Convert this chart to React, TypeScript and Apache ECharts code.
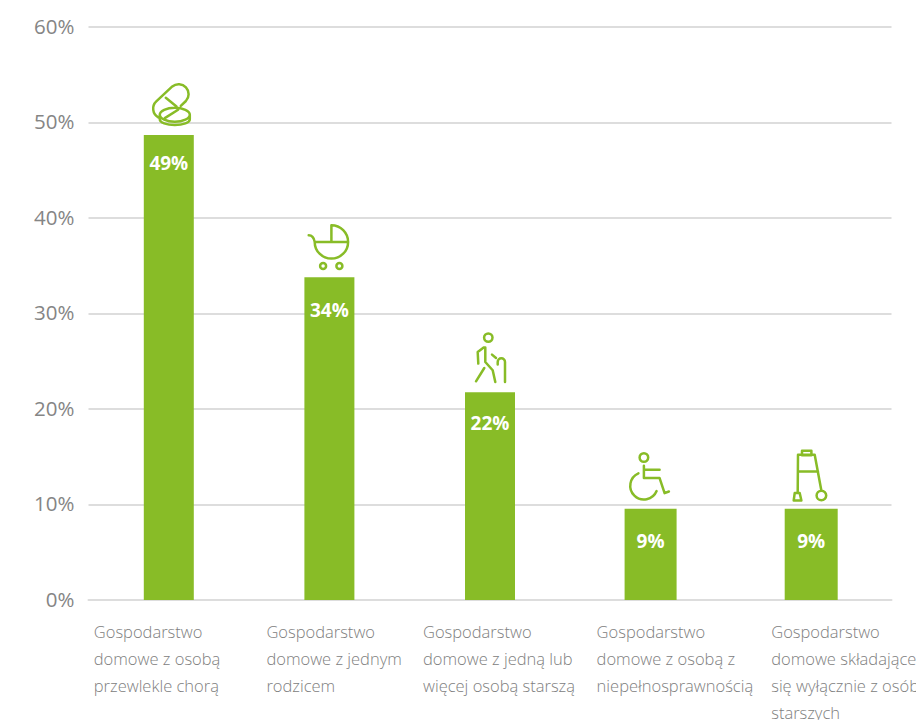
import React, { useEffect, useRef } from "react";
import * as echarts from "echarts";

const categories = [
  "Gospodarstwo\ndomowe z osobą\nprzewlekle chorą",
  "Gospodarstwo\ndomowe z jednym\nrodzicem",
  "Gospodarstwo\ndomowe z jedną lub\nwięcej osobą starszą",
  "Gospodarstwo\ndomowe z osobą z\nniepełnosprawnością",
  "Gospodarstwo\ndomowe składające\nsię wyłącznie z osób\nstarszych",
];
const barValues = [48.7, 33.8, 21.75, 9.55, 9.55];
const valueLabels = ["49%", "34%", "22%", "9%", "9%"];
const labelDistances = [19, 23.5, 21, 23, 23];
const barWidths = [50, 50, 50, 52, 53];
const labelBlockWidths = [150, 126, 134, 108, 80];
const iconNames = ["icoPill", "icoPram", "icoWalk", "icoChair", "icoFrame"];

const GREEN = "#88bc27";
const circle = (x: number, y: number, r: number) =>
  `M${x - r} ${y}A${r} ${r} 0 1 1 ${x + r} ${y}A${r} ${r} 0 1 1 ${x - r} ${y}`;

const iconPaths: Record<string, string> = {
  icoPill:
    "M12 -29L17.1 -33.9A10 10 0 0 0 3.5 -48.5L-12.5 -33.5A10 10 0 0 0 -10.5 -17.5" +
    "M-3 -37.2L7.7 -28.5" +
    "M-9 -20.2A15 7 0 1 1 21 -20.2A15 7 0 1 1 -9 -20.2" +
    "M-9 -20.2L-9 -15.5A15 5.5 0 0 0 21 -15.5L21 -20.2" +
    "M-4 -16.8L9.3 -25.2",
  icoPram:
    "M2 -52A16.7 16.7 0 0 1 18.7 -35.3A16.7 16.7 0 0 1 -14.7 -35.3L18.7 -35.3" +
    "M2 -52L2 -35.3M-14.7 -35.3C-15.5 -40 -17 -42 -20.7 -42" +
    circle(-6.3, -11.3, 3) +
    circle(10, -11.3, 3),
  icoWalk:
    circle(-1.7, -54.7, 4.2) +
    "M-6.3 -44.7L-12.3 -40.3L-11.7 -28.7" +
    "M-6.3 -44.7L-4.7 -44.7L-4.7 -30.3L2.7 -22L5.3 -10.3" +
    "M-5.7 -24.3L-14 -11" +
    "M2 -37.7L6 -34.3" +
    "M15 -10.3L15 -30.3A3.65 3.65 0 0 0 7.7 -30.3L7.7 -27.7",
  icoChair:
    circle(-6.7, -51.3, 4.3) +
    "M-6.7 -43L-6.7 -30.7L9 -30.7L14 -15.7L18.3 -17.3" +
    "M-6.7 -39L9 -39" +
    "M-12.2 -35.5A13.7 13.7 0 1 0 6 -17.7",
  icoFrame:
    "M-13.5 -15.7L-13.2 -54L3.5 -54L10.2 -18" +
    "M-13.2 -37.3L6.8 -37.3" +
    "M-9.2 -53.5L-9.2 -58L0.2 -58L0.2 -53.5Z" +
    "M-16.5 -15.7L-11.5 -15.7L-9.8 -8.3L-17.5 -8.3Z" +
    circle(10.2, -13.3, 4.8),
};
Object.keys(iconPaths).forEach((name) => {
  echarts.graphic.registerShape(name, echarts.graphic.extendPath(iconPaths[name], {}) as any);
});

const rich: Record<string, any> = {};
labelBlockWidths.forEach((w, i) => {
  rich["c" + i] = {
    width: w,
    align: "left",
    fontFamily: "Open Sans",
    fontWeight: 300,
    fontSize: 16.5,
    lineHeight: 27,
    color: "#808080",
  };
});

// Each distinct bar width gets its own hidden, overlaid category axis.
const widthGroups = Array.from(new Set(barWidths));

export default function App() {
  const ref = useRef<HTMLDivElement>(null);
  useEffect(() => {
    const chart = echarts.init(ref.current!, null, { renderer: "svg" });
    chart.setOption({
      animation: false,
      grid: { left: 88.5, right: 24.5, top: 27, bottom: 120, outerBoundsMode: "none" },
      xAxis: [
        {
          type: "category",
          data: categories,
          axisTick: { show: false },
          axisLine: { lineStyle: { color: "#dddddd", width: 2 } },
          axisLabel: {
            interval: 0,
            margin: 18,
            align: "center",
            verticalAlign: "top",
            formatter: (v: string, i: number) =>
              v.split("\n").map((l) => `{c${i}|${l}}`).join("\n"),
            rich,
          },
        },
        ...widthGroups.slice(1).map(() => ({
          type: "category",
          data: categories,
          show: false,
        })),
      ],
      yAxis: {
        type: "value",
        min: 0,
        max: 60,
        interval: 10,
        axisLine: { show: false },
        axisTick: { show: false },
        splitLine: { lineStyle: { color: "#dddddd", width: 2 } },
        axisLabel: {
          formatter: "{value}%",
          margin: 14,
          verticalAlign: "bottom",
          lineHeight: 3,
          fontFamily: "Open Sans",
          fontSize: 20.5,
          color: "#858585",
        },
      },
      series: [
        ...widthGroups.map((w, g) => ({
          type: "bar",
          xAxisIndex: g,
          barWidth: w,
          data: barValues.map((value, i) =>
            barWidths[i] !== w
              ? null
              : {
                  value,
                  itemStyle: { color: GREEN },
                  label: {
                    show: true,
                    position: "insideTop",
                    distance: labelDistances[i],
                    formatter: valueLabels[i],
                    fontFamily: "Open Sans",
                    fontWeight: 700,
                    fontSize: 19,
                    color: "#ffffff",
                  },
                }
          ),
        })),
        {
          type: "custom",
          silent: true,
          data: barValues.map((v, i) => [i, v]),
          renderItem: (params: any, api: any) => {
            const p = api.coord([api.value(0), api.value(1)]);
            return {
              type: iconNames[params.dataIndex],
              x: p[0],
              y: p[1],
              style: {
                fill: "none",
                stroke: GREEN,
                lineWidth: 2.5,
                lineCap: "round",
                lineJoin: "round",
              },
            };
          },
        },
      ],
    });
    return () => chart.dispose();
  }, []);
  return (
    <div
      ref={ref}
      style={{ position: "absolute", left: 0, top: 0, width: 916, height: 720 }}
    />
  );
}
